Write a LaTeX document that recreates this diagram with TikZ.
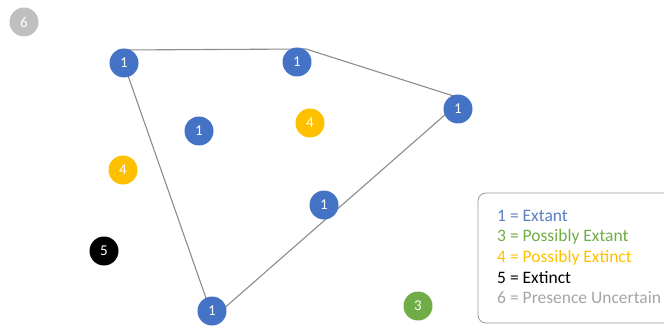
\documentclass[tikz,border=0pt]{standalone}
\usepackage{fontspec}
\setmainfont{Carlito}
\usetikzlibrary{positioning}
\definecolor{extant}{HTML}{4472C4}
\definecolor{posext}{HTML}{70AD47}
\definecolor{posextinct}{HTML}{FFC000}
\definecolor{uncert}{HTML}{BFBFBF}
\definecolor{uncerttxt}{HTML}{A6A6A6}
\definecolor{legendtxt}{HTML}{5B7FC0}

\begin{document}
\begin{tikzpicture}[x=1pt,y=-1pt,
	site/.style={circle,fill=#1,text=white,minimum size=29pt,inner sep=0pt,font=\fontsize{15}{15}\selectfont},
	hull/.style={draw=gray!90,line width=1.1pt,line join=round}]
	\useasboundingbox (0,0) rectangle (664,326);
	% outline round the sightings
	\coordinate (nw) at (119,50);
	\coordinate (ne) at (306,49);
	\coordinate (ee) at (463,99);
	\coordinate (ss) at (213,318);
	\draw[hull] (nw) -- (ne) -- (ee) -- (ss) -- cycle;
	% sightings
	\node[site=uncert] (u1) at (24,22) {6};
	\node[site=extant] (e1) at (124,63) {1};
	\node[site=extant] (e2) at (297,62) {1};
	\node[site=extant] (e3) at (458,109) {1};
	\node[site=extant] (e4) at (199,131) {1};
	\node[site=extant] (e5) at (324,205) {1};
	\node[site=extant] (e6) at (212,311) {1};
	\node[site=posextinct] (x1) at (310,123) {4};
	\node[site=posextinct] (x2) at (123,170) {4};
	\node[site=black] (k1) at (104,251) {5};
	\node[site=posext] (p1) at (418,306) {3};
	% legend
	\draw[draw=gray!80,line width=0.8pt,rounded corners=8pt,fill=white] (478,193) rectangle (700,323);
	\begin{scope}[every node/.style={anchor=west,inner sep=0pt,font=\fontsize{17.5}{17.5}\selectfont}]
		\node[text=legendtxt] (l1) at (497,216) {1 = Extant};
		\node[text=posext] (l3) at (497,237) {3 = Possibly Extant};
		\node[text=posextinct] (l4) at (497,258) {4 = Possibly Extinct};
		\node[text=black] (l5) at (497,278) {5 = Extinct};
		\node[text=uncerttxt] (l6) at (497,298) {6 = Presence Uncertain};
	\end{scope}
\end{tikzpicture}
\end{document}
